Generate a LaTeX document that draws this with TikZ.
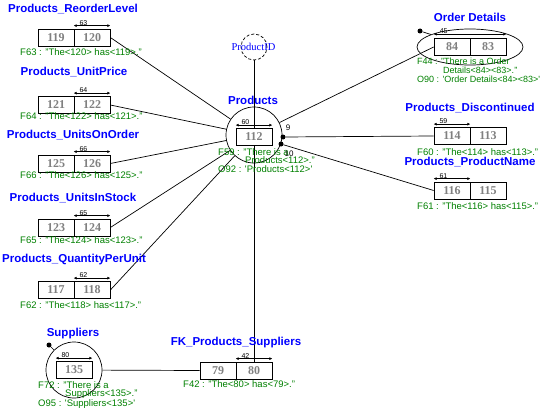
\documentclass[tikz,border=0pt]{standalone}
\usepackage{fontspec}
\setmainfont{Liberation Sans}
\newfontfamily\serifnum{Liberation Serif}
\usetikzlibrary{arrows.meta,shapes.geometric,backgrounds}
\definecolor{ormblue}{RGB}{0,0,255}
\definecolor{ormgreen}{RGB}{0,128,0}
\definecolor{ormgray}{RGB}{128,128,128}

\begin{document}
\begin{tikzpicture}[x=1pt,y=-1pt,
  role/.style={draw, fill=white, line width=0.7pt, minimum width=36pt, minimum height=17pt, inner sep=0pt, text=ormgray, font=\serifnum\bfseries\fontsize{12}{12}\selectfont},
  facttitle/.style={text=ormblue, inner sep=0pt, font=\bfseries\fontsize{11.5}{12}\selectfont},
  reading/.style={text=ormgreen, anchor=north west, inner sep=0pt, align=left, font=\fontsize{9.5}{8.7}\selectfont},
  entity/.style={draw, circle, line width=0.7pt, minimum size=56pt, inner sep=0pt},
  uniq/.style={{Latex[length=3pt,width=3pt]}-{Latex[length=3pt,width=3pt]}, line width=0.7pt},
  ucnum/.style={font=\fontsize{7}{7}\selectfont, inner sep=0pt, anchor=south west, pos=0.15},
  mandot/.style={circle, fill, inner sep=0pt, minimum size=5pt},
  link/.style={line width=0.7pt}]
\useasboundingbox (0,0) rectangle (541,420);

\node [facttitle] at (73,9) {Products\_ReorderLevel};
\node [role] (r119) at (56,37.5) {119};
\node [role] (r120) at (92,37.5) {120};
\draw [uniq] ([yshift=3pt]r120.north west) -- node[ucnum] {63} ([yshift=3pt]r120.north east);
\node [reading] at (20,48) {F63 : "The<120> has<119>."};

\node [facttitle] at (74,72) {Products\_UnitPrice};
\node [role] (r121) at (56,105) {121};
\node [role] (r122) at (92,105) {122};
\draw [uniq] ([yshift=3pt]r122.north west) -- node[ucnum] {64} ([yshift=3pt]r122.north east);
\node [reading] at (20,112) {F64 : "The<122> has<121>."};

\node [facttitle] at (73,135) {Products\_UnitsOnOrder};
\node [role] (r125) at (56,163.5) {125};
\node [role] (r126) at (92,163.5) {126};
\draw [uniq] ([yshift=3pt]r126.north west) -- node[ucnum] {66} ([yshift=3pt]r126.north east);
\node [reading] at (20,171) {F66 : "The<126> has<125>."};

\node [facttitle] at (73,198) {Products\_UnitsInStock};
\node [role] (r123) at (56,227.5) {123};
\node [role] (r124) at (92,227.5) {124};
\draw [uniq] ([yshift=3pt]r124.north west) -- node[ucnum] {65} ([yshift=3pt]r124.north east);
\node [reading] at (20,236) {F65 : "The<124> has<123>."};

\node [facttitle] at (74,260) {Products\_QuantityPerUnit};
\node [role] (r117) at (56,290) {117};
\node [role] (r118) at (92,290) {118};
\draw [uniq] ([yshift=3pt]r118.north west) -- node[ucnum] {62} ([yshift=3pt]r118.north east);
\node [reading] at (20,301) {F62 : "The<118> has<117>."};

\node [draw, circle, dashed, dash pattern=on 3pt off 2pt, line width=0.7pt, minimum size=26pt] (pid) at (254,47) {};
\node [text=ormblue, font=\serifnum\fontsize{10.5}{10.5}\selectfont, inner sep=0pt] (pidtext) at (253.5,47) {ProductID};

\node [facttitle] at (253,100) {Products};
\node [entity] (products) at (254,135) {};
\node [role] (p112) at (254,137) {112};
\draw [uniq] ([yshift=3pt]p112.north west) -- node[ucnum] {60} ([yshift=3pt]p112.north east);
\node [reading] at (218,148) {F59 : "There is a\\\hspace*{27pt}Products<112>."\\O92 : \textquotesingle Products<112>\textquotesingle};
\node [mandot] (dot9) at (283,137) {};
\node [mandot] (dot10) at (281,144) {};
\node [font=\fontsize{8}{8}\selectfont, inner sep=0pt] at (288,128) {9};
\node [font=\fontsize{8}{8}\selectfont, inner sep=0pt] at (289,154) {10};

\node [facttitle] at (470,17) {Order Details};
\node [draw, ellipse, line width=0.7pt, minimum width=106pt, minimum height=36pt, inner sep=0pt] (orderdetails) at (470,47) {};
\node [role] (od84) at (452,47) {84};
\node [role] (od83) at (488,47) {83};
\draw [uniq] ([yshift=4pt]od84.north west) -- node[ucnum, pos=0.08] {45} ([yshift=4pt]od83.north east);
\node [mandot] (oddot) at (420,31) {};
\node [reading, font=\fontsize{9}{8.9}\selectfont] at (417,58) {F44 : "There is a Order\\\hspace*{26pt}Details<84><83>."\\O90 : \textquotesingle Order Details<84><83>\textquotesingle};

\node [facttitle] at (470,108) {Products\_Discontinued};
\node [role] (d114) at (452,136) {114};
\node [role] (d113) at (488,136) {113};
\draw [uniq] ([yshift=3pt]d114.north west) -- node[ucnum] {59} ([yshift=3pt]d114.north east);
\node [reading] at (417,148) {F60 : "The<114> has<113>."};

\node [facttitle] at (470,162) {Products\_ProductName};
\node [role] (n116) at (452,190.5) {116};
\node [role] (n115) at (488,190.5) {115};
\draw [uniq] ([yshift=3pt]n116.north west) -- node[ucnum] {61} ([yshift=3pt]n116.north east);
\node [reading] at (417,202) {F61 : "The<116> has<115>."};

\node [facttitle] at (73,334) {Suppliers};
\node [entity] (suppliers) at (74,370) {};
\node [role] (s135) at (74,370) {135};
\draw [uniq] ([yshift=3pt]s135.north west) -- node[ucnum] {80} ([yshift=3pt]s135.north east);
\node [mandot] (supdot) at (49,345) {};
\node [reading] at (38,381) {F72 : "There is a\\\hspace*{27pt}Suppliers<135>."\\O95 : \textquotesingle Suppliers<135>\textquotesingle};

\node [facttitle] at (236,343) {FK\_Products\_Suppliers};
\node [role] (fk79) at (218,370.5) {79};
\node [role] (fk80) at (254,370.5) {80};
\draw [uniq] ([yshift=3pt]fk80.north west) -- node[ucnum] {42} ([yshift=3pt]fk80.north east);
\node [reading] at (183,380) {F42 : "The<80> has<79>."};

\begin{scope}[on background layer]
\draw [link] (r120.east) -- (products);
\draw [link] (r122.east) -- (products);
\draw [link] (r126.east) -- (products);
\draw [link] (r124.east) -- (products);
\draw [link] (r118.east) -- (products);
\draw [link] (pid) -- (fk80.north);
\draw [link] (od84.west) -- (products);
\draw [link] (oddot) -- (orderdetails);
\draw [link] (dot9) -- (d114.west);
\draw [link] (dot10) -- (n116.west);
\draw [link] (supdot) -- (suppliers);
\draw [link] (suppliers) -- (fk79.west);
\end{scope}

\end{tikzpicture}
\end{document}
